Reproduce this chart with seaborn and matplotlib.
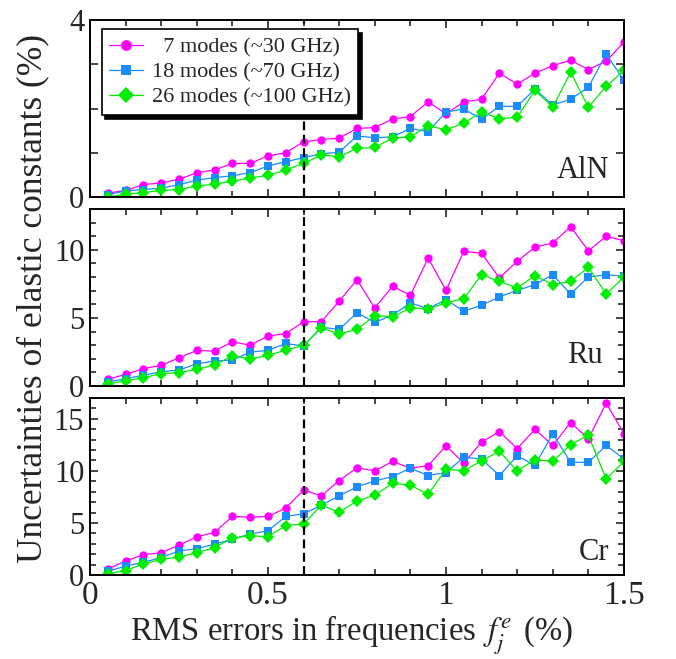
import numpy as np
import pandas as pd
import seaborn as sns
import matplotlib
matplotlib.use('Agg')
import matplotlib.pyplot as plt
from matplotlib.ticker import MultipleLocator, FuncFormatter

# x positions: RMS errors in frequencies (%)
rms = [0.05, 0.10, 0.15, 0.20, 0.25, 0.30, 0.35, 0.40, 0.45, 0.50,
       0.55, 0.60, 0.65, 0.70, 0.75, 0.80, 0.85, 0.90, 0.95, 1.00,
       1.05, 1.10, 1.15, 1.20, 1.25, 1.30, 1.35, 1.40, 1.45, 1.50]

series_names = ['  7 modes (~30 GHz)', '18 modes (~70 GHz)', '26 modes (~100 GHz)']
materials = ['AlN', 'Ru', 'Cr']

# AlN
aln_7 = [0.09, 0.15, 0.28, 0.32, 0.40, 0.55, 0.61, 0.76, 0.76, 0.93,
         1.00, 1.25, 1.30, 1.33, 1.55, 1.57, 1.76, 1.82, 2.15, 1.88,
         2.15, 2.21, 2.80, 2.55, 2.80, 2.97, 3.09, 2.88, 3.07, 3.50]
aln_18 = [0.05, 0.14, 0.17, 0.20, 0.28, 0.38, 0.44, 0.48, 0.55, 0.70,
          0.80, 0.89, 0.98, 1.01, 1.38, 1.34, 1.36, 1.55, 1.48, 1.92,
          1.99, 1.76, 2.05, 2.05, 2.44, 2.08, 2.21, 2.48, 3.23, 2.64]
aln_26 = [0.00, 0.06, 0.10, 0.15, 0.17, 0.25, 0.29, 0.36, 0.43, 0.49,
          0.61, 0.76, 0.95, 0.91, 1.10, 1.12, 1.33, 1.36, 1.61, 1.52,
          1.67, 1.92, 1.77, 1.80, 2.41, 2.03, 2.82, 2.03, 2.50, 2.86]

# Ru
ru_7 = [0.49, 0.85, 1.27, 1.51, 2.07, 2.61, 2.56, 3.24, 3.00, 3.66,
        3.85, 4.71, 4.73, 6.22, 7.80, 5.73, 7.32, 6.66, 9.39, 7.02,
        9.88, 9.76, 7.93, 9.15, 10.2, 10.5, 11.7, 9.93, 10.98, 10.68]
ru_18 = [0.29, 0.54, 0.78, 1.05, 1.17, 1.63, 1.83, 1.90, 2.49, 2.61,
         3.12, 2.93, 4.32, 4.15, 5.37, 4.68, 5.20, 6.10, 5.68, 6.34,
         5.49, 5.93, 6.54, 7.02, 7.44, 8.17, 6.76, 8.00, 8.17, 8.05]
ru_26 = [0.17, 0.37, 0.61, 0.90, 0.98, 1.22, 1.54, 2.20, 2.00, 2.24,
         2.63, 2.98, 4.27, 3.83, 4.15, 5.17, 5.07, 5.73, 5.66, 6.10,
         6.41, 8.17, 7.68, 7.20, 8.10, 7.44, 7.68, 8.71, 6.76, 8.00]

# Cr
cr_7 = [0.58, 1.33, 1.95, 2.14, 2.86, 3.67, 4.09, 5.62, 5.55, 5.62,
        6.43, 8.15, 7.60, 9.06, 10.3, 10.0, 10.9, 10.26, 10.5, 12.4,
        10.75, 12.76, 13.77, 12.14, 13.99, 12.44, 14.64, 13.08, 16.5, 13.57]
cr_18 = [0.36, 0.84, 1.23, 1.66, 2.31, 2.53, 2.95, 3.44, 3.93, 4.25,
         5.62, 5.88, 6.69, 7.60, 8.47, 9.03, 9.45, 10.26, 9.55, 9.84,
         11.3, 11.14, 9.55, 11.46, 10.52, 13.57, 10.84, 10.81, 12.44, 11.14]
cr_26 = [0.13, 0.42, 1.07, 1.49, 1.72, 2.14, 2.63, 3.54, 3.77, 3.67,
         4.74, 4.90, 6.69, 6.04, 7.11, 7.66, 8.80, 8.64, 7.73, 10.16,
         10.0, 10.97, 11.88, 10.0, 11.07, 10.91, 12.53, 13.41, 9.22, 10.91]

panel_data = {'AlN': [aln_7, aln_18, aln_26],
              'Ru': [ru_7, ru_18, ru_26],
              'Cr': [cr_7, cr_18, cr_26]}

sns.set_theme(style='ticks')
plt.rcParams['font.family'] = ['Liberation Serif', 'DejaVu Serif']
plt.rcParams['mathtext.fontset'] = 'stix'

colors = ['#ff00ff', '#1a8cff', '#00ee00']
markers = ['o', 's', 'D']
msizes = [6, 5.5, 6.5]

fig = plt.figure(figsize=(6.76, 6.59), dpi=100)
left, width = 0.133, 0.790
bottoms = [0.701, 0.4143, 0.1275]
height = 0.2686
ylims = [(0, 4), (0, 13), (0, 17)]
label_pos = [(0.972, 0.11), (0.96, 0.13), (0.972, 0.083)]

axes = []
for i, mat in enumerate(materials):
    ax = fig.add_axes([left, bottoms[i], width, height])
    axes.append(ax)
    for name, vals, c, m, ms in zip(series_names, panel_data[mat], colors, markers, msizes):
        sns.lineplot(x=rms, y=vals, ax=ax, color=c, marker=m, markersize=ms,
                     markeredgewidth=0, linewidth=0.9, label=name, legend=False)
    ax.axvline(0.6, color='black', linestyle=(0, (4, 2)), linewidth=1.6, zorder=5)
    ax.set_xlim(0, 1.5)
    ax.set_ylim(*ylims[i])
    ax.xaxis.set_major_locator(MultipleLocator(0.5))
    ax.xaxis.set_minor_locator(MultipleLocator(0.1))
    ax.xaxis.set_major_formatter(FuncFormatter(lambda v, p: f'{v:g}'))
    if mat == 'AlN':
        ax.set_yticks([0, 1, 2, 3, 4])
        ax.set_yticklabels(['0', '', '', '', '4'])
    else:
        ax.yaxis.set_major_locator(MultipleLocator(5))
        ax.yaxis.set_minor_locator(MultipleLocator(1))
    ax.tick_params(which='both', direction='in', top=True, right=True, width=1.2)
    ax.tick_params(which='major', length=6, labelsize=22, pad=4)
    ax.tick_params(which='minor', length=4)
    ax.tick_params(axis='x', which='major', labelsize=24, pad=4)
    for sp in ax.spines.values():
        sp.set_linewidth(1.4)
        sp.set_color('black')
    if i < 2:
        ax.set_xticklabels([])
    ax.set_xlabel('')
    ax.set_ylabel('')
    ax.text(label_pos[i][0], label_pos[i][1], mat, transform=ax.transAxes,
            ha='right', va='baseline', fontsize=22)

leg = axes[0].legend(loc='upper left', bbox_to_anchor=(0.022, 0.949), fontsize=16,
                     frameon=True, fancybox=False, edgecolor='black', framealpha=1,
                     shadow={'ox': 2.5, 'oy': -2.5, 'color': 'black', 'alpha': 1},
                     handlelength=1.5, handletextpad=0.4, labelspacing=0.2,
                     borderpad=0.35, borderaxespad=0, markerscale=1.3)
leg.get_frame().set_linewidth(1.2)

fig.text(0.049, 0.547, 'Uncertainties of elastic constants (%)', rotation=90,
         ha='center', va='center', fontsize=25.5)
fig.text(0.52, 0.036, r'RMS errors in frequencies $\,f_j^e\,$ (%)',
         ha='center', va='center', fontsize=23.5)

fig.savefig('out.png', dpi=100)
